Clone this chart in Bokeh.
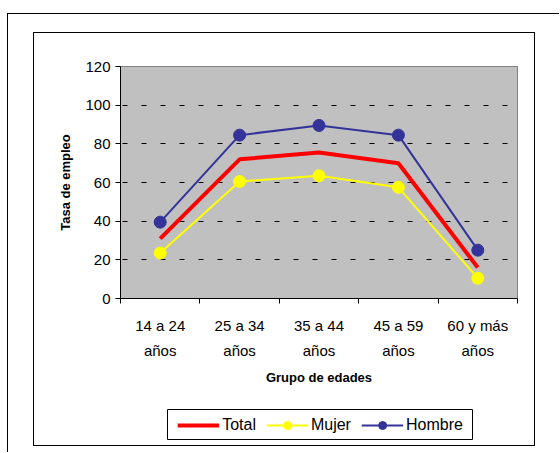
from bokeh.plotting import figure
from bokeh.models import FixedTicker, Legend, LegendItem, Range1d, Spacer
from bokeh.layouts import column, row
from bokeh.embed import file_html
from bokeh.resources import INLINE

categories = ["14 a 24\naños", "25 a 34\naños", "35 a 44\naños", "45 a 59\naños", "60 y más\naños"]
total = [31, 72, 75.5, 70, 16]
mujer = [23.5, 60.5, 63.5, 57.5, 10.5]
hombre = [39.5, 84.5, 89.5, 84.5, 25]
y_ticks = [0, 20, 40, 60, 80, 100, 120]
series_names = ["Total", "Mujer", "Hombre"]

xs = [i + 0.5 for i in range(len(categories))]
FONT = "Liberation Sans"
RED, YEL, BLU = "#FF0000", "#FFFF00", "#333399"

def draw_series(fig):
    r_t = fig.line(xs, total, line_color=RED, line_width=4)
    r_ml = fig.line(xs, mujer, line_color=YEL, line_width=2)
    r_mm = fig.scatter(xs, mujer, size=12, fill_color=YEL, line_color=YEL)
    r_hl = fig.line(xs, hombre, line_color=BLU, line_width=2)
    r_hm = fig.scatter(xs, hombre, size=12, fill_color=BLU, line_color=BLU)
    return [[r_t], [r_ml, r_mm], [r_hl, r_hm]]

p = figure(width=500, height=367, output_backend="svg", toolbar_location=None,
           x_range=Range1d(0, len(categories)), y_range=Range1d(0, 120),
           min_border_left=86, min_border_right=17, min_border_top=33, min_border_bottom=102)
p.background_fill_color = "#C0C0C0"
p.border_fill_color = "white"
p.outline_line_color = "#808080"
p.outline_line_width = 1

draw_series(p)

p.xgrid.visible = False
p.ygrid.ticker = FixedTicker(ticks=y_ticks)
p.ygrid.grid_line_color = "black"
p.ygrid.grid_line_dash = "5 14"
p.ygrid.grid_line_dash_offset = 17
p.ygrid.grid_line_width = 1

xa = p.xaxis[0]
xa.ticker = FixedTicker(ticks=xs, minor_ticks=list(range(len(categories) + 1)))
xa.major_label_overrides = {x: c for x, c in zip(xs, categories)}
xa.major_tick_line_color = None
xa.minor_tick_in = 0
xa.minor_tick_out = 5
xa.minor_tick_line_color = "black"
xa.axis_line_color = "black"
xa.major_label_text_font = FONT
xa.major_label_text_font_size = "15px"
xa.major_label_text_color = "black"
xa.major_label_standoff = 12
xa.major_label_text_line_height = 1.5
xa.axis_label = "Grupo de edades"
xa.axis_label_text_font = FONT
xa.axis_label_text_font_size = "13px"
xa.axis_label_text_font_style = "bold"
xa.axis_label_text_color = "black"
xa.axis_label_standoff = 8

ya = p.yaxis[0]
ya.ticker = FixedTicker(ticks=y_ticks)
ya.major_tick_in = 0
ya.major_tick_out = 5
ya.minor_tick_line_color = None
ya.axis_line_color = "black"
ya.major_label_text_font = FONT
ya.major_label_text_font_size = "15px"
ya.major_label_text_color = "black"
ya.major_label_standoff = 5
ya.axis_label = "Tasa de empleo"
ya.axis_label_text_font = FONT
ya.axis_label_text_font_size = "13px"
ya.axis_label_text_font_style = "bold"
ya.axis_label_text_color = "black"
ya.axis_label_standoff = 9

# legend strip: same series, kept outside its visible range so only the keys show
lg = figure(width=306, height=31, output_backend="svg", toolbar_location=None,
            x_range=Range1d(-20, -10), y_range=Range1d(-20, -10), min_border=0)
lg.axis.visible = False
lg.grid.visible = False
lg.outline_line_color = "black"
lg.outline_line_width = 1
keys = draw_series(lg)

legend = Legend(items=[LegendItem(label=n, renderers=r) for n, r in zip(series_names, keys)],
                orientation="horizontal", location="center")
legend.border_line_color = None
legend.background_fill_alpha = 0
legend.label_text_font = FONT
legend.label_text_font_size = "16px"
legend.label_text_color = "black"
legend.glyph_width = 42
legend.glyph_height = 20
legend.label_standoff = 3
legend.spacing = 10
legend.padding = 0
legend.margin = 0
lg.add_layout(legend, "center")

inner = column(p, Spacer(height=9), row(Spacer(width=133), lg), Spacer(height=5),
               styles={"outline": "1px solid black"})

root = column(inner, styles={"margin-left": "7px", "margin-top": "13px",
                             "border-left": "1px solid black", "border-top": "1px solid black",
                             "padding-left": "26px", "padding-top": "19px",
                             "padding-right": "25px", "padding-bottom": "7px"})

open("out.html", "w").write(file_html(root, INLINE))
